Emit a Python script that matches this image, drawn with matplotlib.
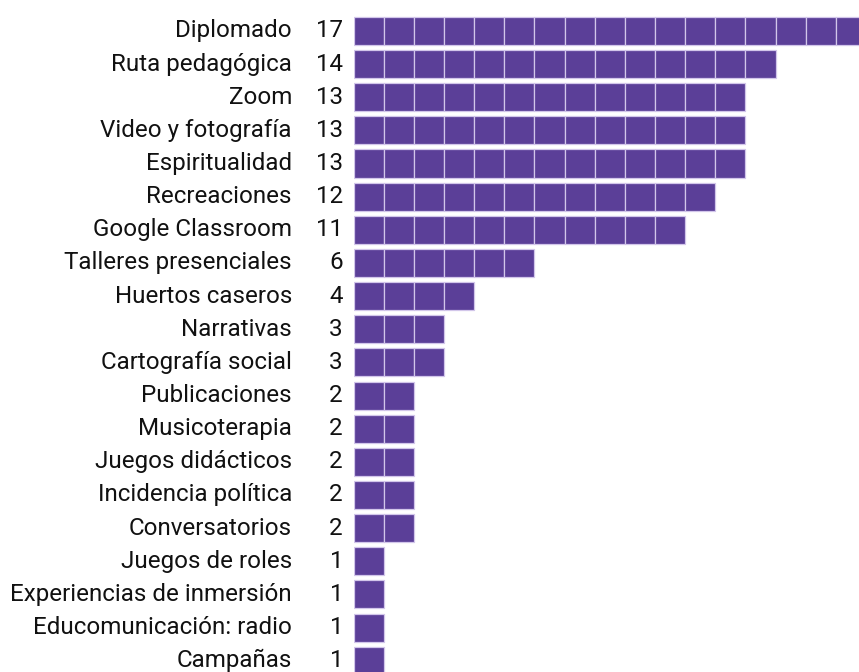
import matplotlib.pyplot as plt
from matplotlib.transforms import blended_transform_factory

# Data
categories = ['Diplomado', 'Ruta pedagógica', 'Zoom', 'Video y fotografía',
              'Espiritualidad', 'Recreaciones', 'Google Classroom',
              'Talleres presenciales', 'Huertos caseros', 'Narrativas',
              'Cartografía social', 'Publicaciones', 'Musicoterapia',
              'Juegos didácticos', 'Incidencia política', 'Conversatorios',
              'Juegos de roles', 'Experiencias de inmersión',
              'Educomunicación: radio', 'Campañas']
values = [17, 14, 13, 13, 13, 12, 11, 6, 4, 3, 3, 2, 2, 2, 2, 2, 1, 1, 1, 1]

plt.rcParams['font.family'] = ['Roboto', 'DejaVu Sans']

W, H = 859, 672
fig = plt.figure(figsize=(W / 100, H / 100), dpi=100)
x0 = 353.5
ax = fig.add_axes([x0 / W, 0, 1 - x0 / W, 1])

purple = '#5b3f98'
edge = '#d2c6ea'
rows = list(range(len(categories)))

# one square per unit
for k in range(max(values)):
    ys = [r for r, v in zip(rows, values) if v > k]
    ax.barh(ys, 1, left=k, height=0.845, color=purple,
            edgecolor=edge, linewidth=0.9)

pitch = 33.15
top = 30.9
ax.set_xlim(0, (W - x0) / 30.15)
ax.set_ylim((H - top) / pitch, -top / pitch)
ax.axis('off')

tr = blended_transform_factory(fig.transFigure, ax.transData)
for r, (c, v) in enumerate(zip(categories, values)):
    ax.text(292 / W, r, c, transform=tr, ha='right', va='center',
            fontsize=17.4, color='#111111')
    ax.text(343 / W, r, str(v), transform=tr, ha='right', va='center',
            fontsize=17.4, color='#111111')

fig.savefig('out.png', dpi=100)
